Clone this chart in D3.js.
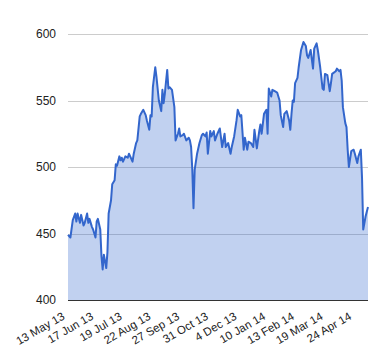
<!DOCTYPE html>
<html>
<head>
<meta charset="utf-8">
<script src="https://cdn.jsdelivr.net/npm/d3@7"></script>
<style>
  body { margin: 0; background: #fff; }
  text { font-family: "Liberation Sans", Arial, sans-serif; }
</style>
</head>
<body>
<div class="chart"></div>
<script>
// trading day index (0 = 13 May 13) and closing value
const days = [0, 2, 4, 6, 7, 8, 10, 11, 13, 14, 16, 17, 18, 20, 21, 23, 24, 25, 27, 28,
  29, 30, 32, 33, 34, 36, 37, 39, 40, 41, 43, 44, 45, 46, 48, 50, 51, 54, 55, 57,
  58, 60, 61, 63, 65, 66, 68, 69, 70, 71, 73, 74, 76, 78, 79, 80, 81, 83, 84, 85,
  87, 89, 90, 92, 93, 94, 96, 97, 99, 101, 102, 103, 104, 105, 106, 108, 110, 112, 113, 115,
  116, 117, 119, 120, 122, 123, 125, 127, 129, 131, 132, 134, 136, 137, 139, 141, 142, 144, 145, 147,
  148, 150, 151, 153, 155, 156, 158, 160, 161, 162, 164, 166, 167, 168, 170, 171, 173, 175, 177, 178,
  180, 181, 183, 185, 186, 187, 188, 189, 190, 192, 193, 195, 196, 197, 199, 200, 201, 203, 205, 206,
  208, 209, 211, 213, 214, 215, 217, 219, 220, 221, 224, 225, 227, 228, 229, 230, 232, 233, 234, 235,
  237, 239, 240, 242, 243, 245, 246, 247, 249, 251];
const values = [449, 447, 460, 465, 459, 465, 458, 464, 456, 458, 465, 458, 461, 455, 453, 447, 459, 461, 453, 433,
  423, 434, 424, 436, 465, 475, 487, 490, 502, 501, 508, 505, 507, 504, 508, 507, 510, 504, 510, 518,
  520, 538, 540, 543, 539, 535, 528, 539, 538, 560, 575, 568, 550, 542, 558, 548, 555, 573, 559, 560,
  558, 545, 520, 525, 529, 523, 524, 525, 520, 522, 520, 515, 498, 469, 498, 510, 518, 524, 525, 523,
  526, 510, 527, 523, 527, 520, 525, 529, 515, 525, 515, 518, 510, 515, 523, 535, 543, 538, 539, 513,
  522, 513, 519, 518, 515, 528, 514, 527, 532, 525, 540, 543, 525, 559, 553, 558, 557, 556, 550, 539,
  530, 540, 542, 535, 528, 540, 550, 549, 563, 567, 575, 588, 591, 594, 591, 584, 582, 588, 574, 589,
  593, 588, 575, 559, 558, 570, 569, 557, 563, 570, 572, 574, 572, 573, 565, 545, 533, 530, 513, 500,
  512, 513, 510, 503, 508, 513, 492, 453, 463, 470];

const tickDays = [0, 24, 48, 72, 96, 120, 144, 168, 192, 216, 240];
const tickLabels = ["13 May 13", "17 Jun 13", "19 Jul 13", "22 Aug 13", "27 Sep 13", "31 Oct 13",
  "4 Dec 13", "10 Jan 14", "13 Feb 14", "19 Mar 14", "24 Apr 14"];
const yTicks = [400, 450, 500, 550, 600];

const width = 380, height = 360;
const margin = { top: 34, right: 12, bottom: 60, left: 68 };

const svg = d3.select(".chart").append("svg")
  .attr("width", width)
  .attr("height", height);

const x = d3.scaleLinear().domain([0, 251]).range([margin.left, width - margin.right]);
const y = d3.scaleLinear().domain([400, 600]).range([height - margin.bottom, margin.top]);

const data = days.map((d, i) => ({ d: d, v: values[i] }));

// gridlines
svg.append("g")
  .selectAll("line")
  .data(yTicks)
  .enter()
  .append("line")
  .attr("x1", x.range()[0])
  .attr("x2", x.range()[1])
  .attr("y1", d => Math.round(y(d)) + 0.5)
  .attr("y2", d => Math.round(y(d)) + 0.5)
  .attr("stroke", "#cccccc");

// y labels
svg.append("g")
  .selectAll("text")
  .data(yTicks)
  .enter()
  .append("text")
  .attr("x", margin.left - 12)
  .attr("y", d => y(d))
  .attr("dy", "0.35em")
  .attr("text-anchor", "end")
  .attr("font-size", "12px")
  .attr("fill", "#222")
  .text(d => d);

const area = d3.area()
  .x(d => x(d.d))
  .y0(y(400))
  .y1(d => y(d.v));

const line = d3.line()
  .x(d => x(d.d))
  .y(d => y(d.v));

svg.append("path")
  .datum(data)
  .attr("d", area)
  .attr("fill", "#3366cc")
  .attr("fill-opacity", 0.3);

svg.append("path")
  .datum(data)
  .attr("d", line)
  .attr("fill", "none")
  .attr("stroke", "#3366cc")
  .attr("stroke-width", 2)
  .attr("stroke-linejoin", "round");

// baseline
svg.append("line")
  .attr("x1", x.range()[0])
  .attr("x2", x.range()[1])
  .attr("y1", Math.round(y(400)) + 0.5)
  .attr("y2", Math.round(y(400)) + 0.5)
  .attr("stroke", "#333333");

// x labels, rotated
svg.append("g")
  .selectAll("text")
  .data(tickDays)
  .enter()
  .append("text")
  .attr("transform", d => "translate(" + (x(d) - 2.5) + "," + (y(400) + 18.5) + ") rotate(-30)")
  .attr("text-anchor", "end")
  .attr("font-size", "11.5px")
  .attr("fill", "#222")
  .text((d, i) => tickLabels[i]);
</script>
</body>
</html>
